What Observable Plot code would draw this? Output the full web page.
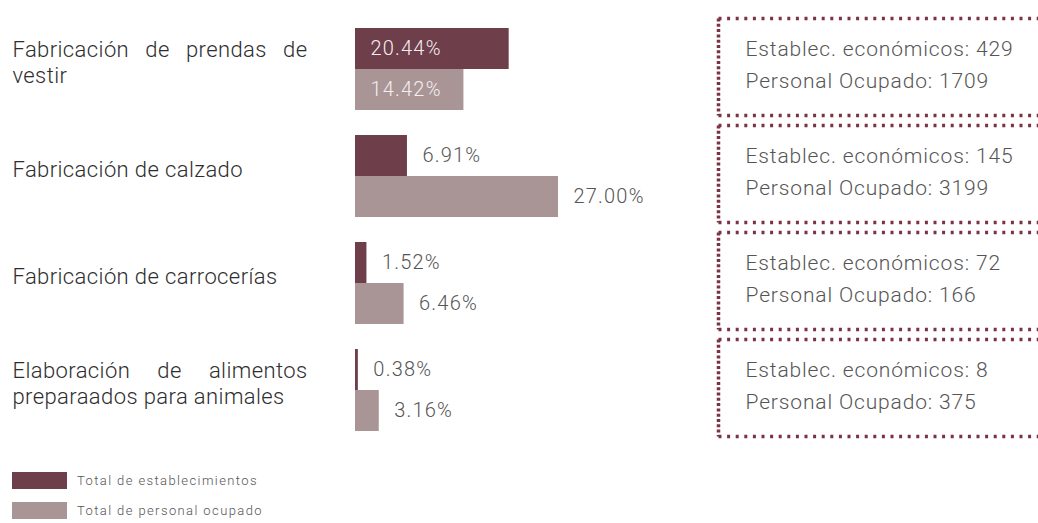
<!DOCTYPE html>
<html>
<head>
<meta charset="utf-8">
<script src="https://cdn.jsdelivr.net/npm/d3@7"></script>
<script src="https://cdn.jsdelivr.net/npm/@observablehq/plot@0.6"></script>
<style>
  body { margin: 0; background: #fff; font-family: Roboto, sans-serif; }
  #row { display: flex; width: 1038px; overflow: hidden; }
  #legend { margin: 22px 0 0 12px; }
  #legend * { font-family: Roboto, sans-serif !important; font-weight: 300 !important; font-size: 13px !important; color: #555 !important; letter-spacing: 1.4px; }
  #legend > div > div { margin-bottom: 12px !important; display: flex; align-items: center; }
  #legend svg { margin-right: 10px !important; }
</style>
</head>
<body>
<div id="row"><div id="bars"></div><div id="boxes"></div></div>
<div id="legend"></div>
<script>
// ---- data ----
const categories = [
  "Fabricación de prendas de vestir",
  "Fabricación de calzado",
  "Fabricación de carrocerías",
  "Elaboración de alimentos preparaados para animales"
];
const establecimientosPct = [20.44, 6.91, 1.52, 0.38];
const personalPct = [14.42, 27.00, 6.46, 3.16];
const establecimientos = [429, 145, 72, 8];
const personal = [1709, 3199, 166, 375];
const seriesNames = ["Total de establecimientos", "Total de personal ocupado"];
const seriesColors = ["#6e3e4b", "#a99496"];
const insideLabelCategories = ["Fabricación de prendas de vestir"];

// ---- table ----
const rows = categories.flatMap((c, i) => [
  {category: c, series: seriesNames[0], value: establecimientosPct[i]},
  {category: c, series: seriesNames[1], value: personalPct[i]}
]);
const inside = d => insideLabelCategories.includes(d.category);
const pct = d => d.value.toFixed(2) + "%";

const H = 450, MT = 17, MB = 14;
const fyOpts = {domain: categories, axis: null, paddingInner: 0.096, paddingOuter: 0};
const dotColor = "#7b3343";

const bars = Plot.plot({
  width: 716, height: H,
  marginLeft: 355, marginRight: 158, marginTop: MT, marginBottom: MB,
  x: {domain: [0, 27], axis: null},
  y: {domain: seriesNames, axis: null, paddingInner: 0, paddingOuter: 0.155, align: 0.65},
  fy: fyOpts,
  color: {domain: seriesNames, range: seriesColors},
  style: {fontFamily: "Roboto, sans-serif", fontWeight: 300},
  marks: [
    Plot.barX(rows, {x: "value", y: "series", fy: "category", fill: "series"}),
    Plot.text(rows.filter(inside), {x: 0, y: "series", fy: "category", text: pct,
      textAnchor: "start", dx: 15, fill: "#f4eef0", fontSize: 20}),
    Plot.text(rows.filter(d => !inside(d)), {x: "value", y: "series", fy: "category", text: pct,
      textAnchor: "start", dx: 15, fill: "#555", fontSize: 20}),
    Plot.text(categories, {fy: d => d, text: d => d, frameAnchor: "left", textAnchor: "start",
      dx: -343, dy: -5, lineWidth: 14, lineHeight: 1.18, fontSize: 22, fill: "#2e2e2e"})
  ]
});
document.getElementById("bars").append(bars);

// letter spacing per text layer (inside %, outside %, category labels)
const barTextGroups = bars.querySelectorAll('g[aria-label="text"]');
["1.2px", "1.2px", "0.4px"].forEach((ls, k) => barTextGroups[k] && barTextGroups[k].setAttribute("letter-spacing", ls));

const boxes = Plot.plot({
  width: 322, height: H,
  marginLeft: 2, marginRight: 0, marginTop: MT, marginBottom: MB,
  fy: fyOpts,
  style: {fontFamily: "Roboto, sans-serif", fontWeight: 300},
  marks: [
    Plot.frame({anchor: "top", stroke: dotColor, strokeWidth: 3.5, strokeDasharray: "3 5.6", strokeLinecap: "butt"}),
    Plot.frame({anchor: "bottom", stroke: dotColor, strokeWidth: 3.5, strokeDasharray: "3 5.6", strokeLinecap: "butt"}),
    Plot.frame({anchor: "left", stroke: dotColor, strokeWidth: 3.5, strokeDasharray: "3 2.3", strokeLinecap: "butt"}),
    Plot.text(categories, {fy: d => d,
      text: (d, i) => `Establec. económicos: ${establecimientos[i]}\nPersonal Ocupado: ${personal[i]}`,
      frameAnchor: "left", textAnchor: "start", dx: 27, dy: -5, fontSize: 21, lineHeight: 1.5,
      fill: "#555"})
  ]
});
document.getElementById("boxes").append(boxes);
boxes.querySelectorAll('g[aria-label="text"]').forEach(g => g.setAttribute("letter-spacing", "0.85px"));

// justify wrapped category labels (word spacing), as in the reference
const targetWidth = 295;
bars.querySelectorAll("text").forEach(t => {
  const spans = t.querySelectorAll("tspan");
  if (spans.length > 1) {
    spans.forEach((s, k) => {
      if (k === spans.length - 1) return;
      const n = (s.textContent.match(/ /g) || []).length;
      if (!n) return;
      const w = s.getComputedTextLength();
      s.setAttribute("word-spacing", ((targetWidth - w) / n).toFixed(2));
    });
  }
});

document.getElementById("legend").append(Plot.legend({
  color: {type: "categorical", domain: seriesNames, range: seriesColors},
  swatchWidth: 55, swatchHeight: 17, columns: 1
}));
</script>
</body>
</html>
